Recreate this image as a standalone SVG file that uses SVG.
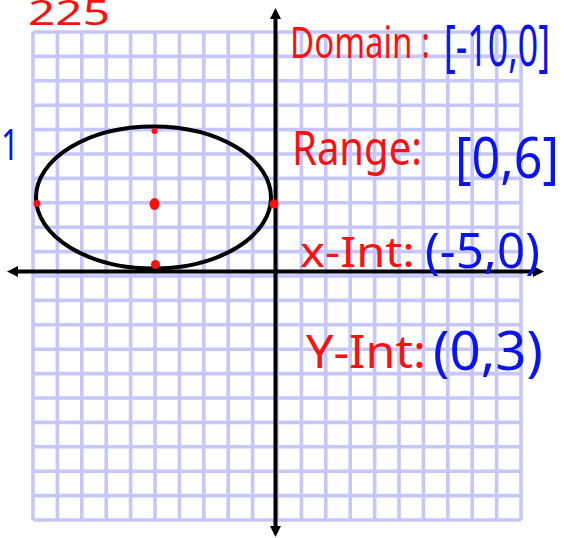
<svg xmlns="http://www.w3.org/2000/svg" width="564" height="538" viewBox="0 0 564 538">
<style>
.grid line{stroke:#c6c6fa;stroke-width:3.6}
.axis{stroke:#000;stroke-width:4;fill:none}
.red{fill:#ff1010;font-family:"Noto Sans","DejaVu Sans",sans-serif}
.blue{fill:#0a14f0;font-family:"Noto Sans","DejaVu Sans",sans-serif}
.dot{fill:#ff1010}
</style>
<rect width="564" height="538" fill="#fff"/>
<g id="grid" class="grid">
<line x1="33" y1="32" x2="33" y2="520"/><line x1="57.4" y1="32" x2="57.4" y2="520"/><line x1="81.8" y1="32" x2="81.8" y2="520"/><line x1="106.2" y1="32" x2="106.2" y2="520"/><line x1="130.6" y1="32" x2="130.6" y2="520"/><line x1="155" y1="32" x2="155" y2="520"/><line x1="179.4" y1="32" x2="179.4" y2="520"/><line x1="203.8" y1="32" x2="203.8" y2="520"/><line x1="228.2" y1="32" x2="228.2" y2="520"/><line x1="252.6" y1="32" x2="252.6" y2="520"/><line x1="277" y1="32" x2="277" y2="520"/><line x1="301.4" y1="32" x2="301.4" y2="520"/><line x1="325.8" y1="32" x2="325.8" y2="520"/><line x1="350.2" y1="32" x2="350.2" y2="520"/><line x1="374.6" y1="32" x2="374.6" y2="520"/><line x1="399" y1="32" x2="399" y2="520"/><line x1="423.4" y1="32" x2="423.4" y2="520"/><line x1="447.8" y1="32" x2="447.8" y2="520"/><line x1="472.2" y1="32" x2="472.2" y2="520"/><line x1="496.6" y1="32" x2="496.6" y2="520"/><line x1="521" y1="32" x2="521" y2="520"/>
<line x1="33" y1="32" x2="521" y2="32"/><line x1="33" y1="56.4" x2="521" y2="56.4"/><line x1="33" y1="80.8" x2="521" y2="80.8"/><line x1="33" y1="105.2" x2="521" y2="105.2"/><line x1="33" y1="129.6" x2="521" y2="129.6"/><line x1="33" y1="154" x2="521" y2="154"/><line x1="33" y1="178.4" x2="521" y2="178.4"/><line x1="33" y1="202.8" x2="521" y2="202.8"/><line x1="33" y1="227.2" x2="521" y2="227.2"/><line x1="33" y1="251.6" x2="521" y2="251.6"/><line x1="33" y1="276" x2="521" y2="276"/><line x1="33" y1="300.4" x2="521" y2="300.4"/><line x1="33" y1="324.8" x2="521" y2="324.8"/><line x1="33" y1="349.2" x2="521" y2="349.2"/><line x1="33" y1="373.6" x2="521" y2="373.6"/><line x1="33" y1="398" x2="521" y2="398"/><line x1="33" y1="422.4" x2="521" y2="422.4"/><line x1="33" y1="446.8" x2="521" y2="446.8"/><line x1="33" y1="471.2" x2="521" y2="471.2"/><line x1="33" y1="495.6" x2="521" y2="495.6"/><line x1="33" y1="520" x2="521" y2="520"/>
</g>
<g id="axes">
<line class="axis" x1="14" y1="271.5" x2="536" y2="271.5"/>
<line class="axis" x1="275.5" y1="16" x2="275.5" y2="529"/>
<polygon points="7,271.5 18,266 18,277" fill="#000"/>
<polygon points="544,271.5 533,266 533,277" fill="#000"/>
<polygon points="275.5,8 270,19 281,19" fill="#000"/>
<polygon points="275.5,537 270,526 281,526" fill="#000"/>
</g>
<g id="ellipse">
<ellipse cx="153.5" cy="197.5" rx="117.5" ry="71" fill="none" stroke="#000" stroke-width="4"/>
<ellipse class="dot" cx="154.5" cy="204" rx="5" ry="6"/>
<circle class="dot" cx="37" cy="203.5" r="3.5"/>
<circle class="dot" cx="274" cy="204" r="4.5"/>
<circle class="dot" cx="154.5" cy="131" r="3"/>
<circle class="dot" cx="155.5" cy="264.5" r="4.5"/>
</g>
<g id="labels">
<text class="red" x="28" y="25" font-size="34" textLength="82" lengthAdjust="spacingAndGlyphs">225</text>
<text class="blue" x="1" y="160" font-size="44" textLength="18" lengthAdjust="spacingAndGlyphs">1</text>
<text class="red" x="290" y="58" font-size="44" textLength="140" lengthAdjust="spacingAndGlyphs">Domain :</text>
<text class="blue" x="444" y="66" font-size="56" textLength="106" lengthAdjust="spacingAndGlyphs">[-10,0]</text>
<text class="red" x="292" y="165" font-size="48" textLength="130" lengthAdjust="spacingAndGlyphs">Range:</text>
<text class="blue" x="455" y="178" font-size="56" textLength="104" lengthAdjust="spacingAndGlyphs">[0,6]</text>
<text class="red" x="300" y="267" font-size="42" textLength="115" lengthAdjust="spacingAndGlyphs">x-Int:</text>
<text class="blue" x="425" y="268" font-size="50" textLength="115" lengthAdjust="spacingAndGlyphs">(-5,0)</text>
<text class="red" x="306" y="368" font-size="46" textLength="120" lengthAdjust="spacingAndGlyphs">Y-Int:</text>
<text class="blue" x="433" y="370" font-size="54" textLength="110" lengthAdjust="spacingAndGlyphs">(0,3)</text>
</g>
</svg>
